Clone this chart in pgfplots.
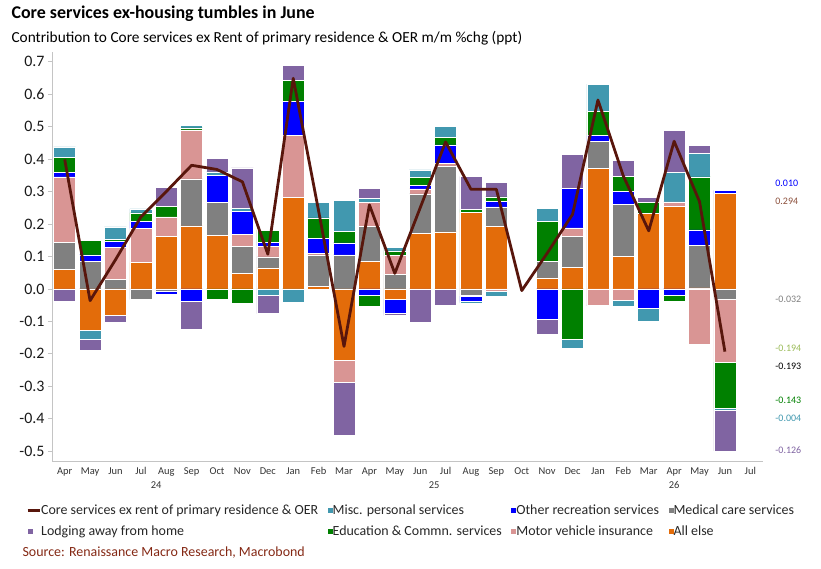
\documentclass[border=0pt]{standalone}
\usepackage{pgfplots}
\pgfplotsset{compat=1.18}
\usepackage{pgfplotstable}
\usepackage{fontspec}
\setmainfont{Carlito}

\definecolor{cline}{RGB}{88,22,12}
\definecolor{cmisc}{RGB}{65,152,175}
\definecolor{crec}{RGB}{0,0,255}
\definecolor{cmed}{RGB}{128,128,128}
\definecolor{clodg}{RGB}{128,100,162}
\definecolor{cedu}{RGB}{0,128,0}
\definecolor{cmvi}{RGB}{217,149,148}
\definecolor{cae}{RGB}{227,108,10}
\definecolor{csrc}{RGB}{132,40,20}
\definecolor{caxis}{RGB}{196,196,196}
\definecolor{clab}{RGB}{140,80,60}
\definecolor{colive}{RGB}{155,187,89}

% contributions, Apr 2024 (0) ... Jun 2026 (26); Oct 2025 (18) not published
\pgfplotstableread{
x  AE     MED    MVI    REC    EDU    MISC   LODG
0  0.061  0.082  0.202  0.014  0.047  0.032 -0.039
1 -0.126  0.084  0.000  0.021  0.045 -0.028 -0.035
2 -0.080  0.030  0.098  0.019  0.005  0.039 -0.024
3  0.082 -0.033  0.105  0.021  0.026  0.013  0.000
4  0.162 -0.008  0.060 -0.008  0.032  0.000  0.058
5  0.194  0.145  0.151 -0.038  0.006  0.008 -0.085
6  0.166  0.100  0.000  0.085 -0.033  0.010  0.041
7  0.047  0.085  0.035  0.072 -0.043  0.010  0.124
8  0.065  0.034  0.032  0.012  0.038 -0.020 -0.056
9  0.281  0.000  0.191  0.107  0.064 -0.042  0.045
10 0.009  0.096  0.005  0.045  0.064  0.047  0.004
11 -0.220 0.105 -0.067  0.037  0.035  0.097 -0.165
12 0.086  0.107  0.074 -0.019 -0.033  0.013  0.029
13 -0.032 0.045  0.058 -0.044  0.014  0.011 -0.006
14 0.171  0.122  0.015  0.011  0.025  0.023 -0.104
15 0.176  0.203  0.009  0.056  0.024  0.032 -0.050
16 0.235 -0.018 -0.003 -0.018  0.010 -0.005  0.102
17 0.193  0.060 -0.007  0.017  0.014 -0.015  0.044
18 0.000  0.000  0.000  0.000  0.000  0.000  0.000
19 0.034  0.050  0.000 -0.093  0.125  0.039 -0.045
20 0.066  0.096  0.026  0.121 -0.154 -0.029  0.105
21 0.371  0.084 -0.049  0.018  0.075  0.083 -0.003
22 0.101  0.159 -0.035  0.040  0.047 -0.017  0.050
23 0.233  0.000  0.000 -0.059  0.034 -0.042  0.014
24 0.254  0.000  0.014 -0.020 -0.017  0.091  0.130
25 0.003  0.131 -0.171  0.048  0.163  0.072  0.025
26 0.294 -0.032 -0.194  0.010 -0.143 -0.004 -0.126
}\comp

\pgfplotstableread{
x  core
0  0.399
1 -0.036
2  0.090
3  0.222
4  0.300
5  0.381
6  0.368
7  0.330
8  0.107
9  0.649
10 0.240
11 -0.177
12 0.259
13 0.048
14 0.250
15 0.453
16 0.307
17 0.307
18 -0.005
19 0.110
20 0.230
21 0.582
22 0.348
23 0.179
24 0.455
25 0.269
26 -0.193
}\coreline

\pgfplotsset{
  base/.style={scale only axis, width=711bp, height=409bp,
    xmin=-0.5, xmax=27.5, ymin=-0.53, ymax=0.73,
    at={(52bp,108bp)}, anchor=south west},
  bars/.style={base, ybar stacked, bar width=22bp,
    every axis plot/.append style={draw=white, line width=0.5bp}},
  sq/.style={legend image code/.code={\fill[##1, draw=none] (0bp,-2.5bp) rectangle (5bp,2.5bp);}},
  linleg/.style={legend image code/.code={\draw[##1, line width=3bp] (0bp,0bp) -- (12bp,0bp);}},
}

\begin{document}
\begin{tikzpicture}
\useasboundingbox (0,0) rectangle (821bp,569bp);

% positive parts
\begin{axis}[bars,
  axis x line*=bottom, axis y line*=left,
  axis line style={caxis, line width=0.9bp},
  ytick={-0.5,-0.4,-0.3,-0.2,-0.1,0,0.1,0.2,0.3,0.4,0.5,0.6,0.7},
  yticklabels={-0.5,-0.4,-0.3,-0.2,-0.1,0.0,0.1,0.2,0.3,0.4,0.5,0.6,0.7},
  xtick={0,...,27},
  xticklabels={Apr,May,Jun,Jul,Aug,Sep,Oct,Nov,Dec,Jan,Feb,Mar,Apr,May,Jun,Jul,Aug,Sep,Oct,Nov,Dec,Jan,Feb,Mar,Apr,May,Jun,Jul},
  x tick label style={font=\fontsize{10.5}{12}\selectfont, text=black!80, yshift=1bp},
  y tick label style={font=\fontsize{16}{18}\selectfont, text=black!90},
  xtick style={draw=none},
  ytick style={caxis, line width=0.9bp},
  tick align=outside, major tick length=4bp,
  clip=false,
]
\addplot[fill=cae]   table[x=x, y expr={max(\thisrow{AE},0)}]   {\comp};
\addplot[fill=cmed]  table[x=x, y expr={max(\thisrow{MED},0)}]  {\comp};
\addplot[fill=cmvi]  table[x=x, y expr={max(\thisrow{MVI},0)}]  {\comp};
\addplot[fill=crec]  table[x=x, y expr={max(\thisrow{REC},0)}]  {\comp};
\addplot[fill=cedu]  table[x=x, y expr={max(\thisrow{EDU},0)}]  {\comp};
\addplot[fill=cmisc] table[x=x, y expr={max(\thisrow{MISC},0)}] {\comp};
\addplot[fill=clodg] table[x=x, y expr={max(\thisrow{LODG},0)}] {\comp};
\node[font=\fontsize{10.5}{12}\selectfont, text=black!80] at (axis cs:3.6,-0.53) [yshift=-24bp] {24};
\node[font=\fontsize{10.5}{12}\selectfont, text=black!80] at (axis cs:14.55,-0.53) [yshift=-24bp] {25};
\node[font=\fontsize{10.5}{12}\selectfont, text=black!80] at (axis cs:24.0,-0.53) [yshift=-24bp] {26};
\end{axis}

% negative parts
\begin{axis}[bars, hide axis]
\addplot[fill=cae]   table[x=x, y expr={min(\thisrow{AE},0)}]   {\comp};
\addplot[fill=cmed]  table[x=x, y expr={min(\thisrow{MED},0)}]  {\comp};
\addplot[fill=cmvi]  table[x=x, y expr={min(\thisrow{MVI},0)}]  {\comp};
\addplot[fill=crec]  table[x=x, y expr={min(\thisrow{REC},0)}]  {\comp};
\addplot[fill=cedu]  table[x=x, y expr={min(\thisrow{EDU},0)}]  {\comp};
\addplot[fill=cmisc] table[x=x, y expr={min(\thisrow{MISC},0)}] {\comp};
\addplot[fill=clodg] table[x=x, y expr={min(\thisrow{LODG},0)}] {\comp};
\end{axis}

% line, legend and end labels
\begin{axis}[base, hide axis, clip=false,
  legend columns=4, legend cell align=left,
  legend style={draw=none, fill=none, font=\fontsize{14}{16}\selectfont,
    at={(axis description cs:-0.0366,-0.102)}, anchor=north west,
    inner sep=0pt, row sep=7bp, column sep=0pt,
    /tikz/every odd column/.append style={column sep=-1.5bp},
    /tikz/every even column/.append style={column sep=8bp},
    nodes={inner sep=1.5bp, text=black!85}},
]
\addplot[cline, line width=2.8bp, line join=round, linleg]
  table[x=x, y=core] {\coreline};
\addlegendentry{Core services ex rent of primary residence \& OER}
\addlegendimage{sq, fill=cmisc}\addlegendentry{Misc. personal services}
\addlegendimage{sq, fill=crec}\addlegendentry{Other recreation services}
\addlegendimage{sq, fill=cmed}\addlegendentry{Medical care services}
\addlegendimage{sq, fill=clodg}\addlegendentry{Lodging away from home}
\addlegendimage{sq, fill=cedu}\addlegendentry{Education \& Commn. services}
\addlegendimage{sq, fill=cmvi}\addlegendentry{Motor vehicle insurance}
\addlegendimage{sq, fill=cae}\addlegendentry{All else}
\begin{scope}[every node/.style={anchor=west, font=\fontsize{10}{11}\selectfont}]
\node[text=crec]   at (axis cs:27.85,0.324)  {0.010};
\node[text=clab]   at (axis cs:27.85,0.269)  {0.294};
\node[text=cmed]   at (axis cs:27.85,-0.033) {-0.032};
\node[text=colive] at (axis cs:27.85,-0.184) {-0.194};
\node[text=black]  at (axis cs:27.85,-0.238) {-0.193};
\node[text=cedu]   at (axis cs:27.85,-0.343) {-0.143};
\node[text=cmisc]  at (axis cs:27.85,-0.399) {-0.004};
\node[text=clodg]  at (axis cs:27.85,-0.498) {-0.126};
\end{scope}
\end{axis}

\node[anchor=west, font=\bfseries\fontsize{18}{21}\selectfont] at (8bp,555bp) {Core services ex-housing tumbles in June};
\node[anchor=west, font=\fontsize{15.4}{18}\selectfont] at (8bp,531bp) {Contribution to Core services ex Rent of primary residence \& OER m/m \%chg (ppt)};
\node[anchor=west, font=\fontsize{14}{16}\selectfont, text=csrc] at (19bp,16bp) {Source: Renaissance Macro Research, Macrobond};
\end{tikzpicture}
\end{document}
